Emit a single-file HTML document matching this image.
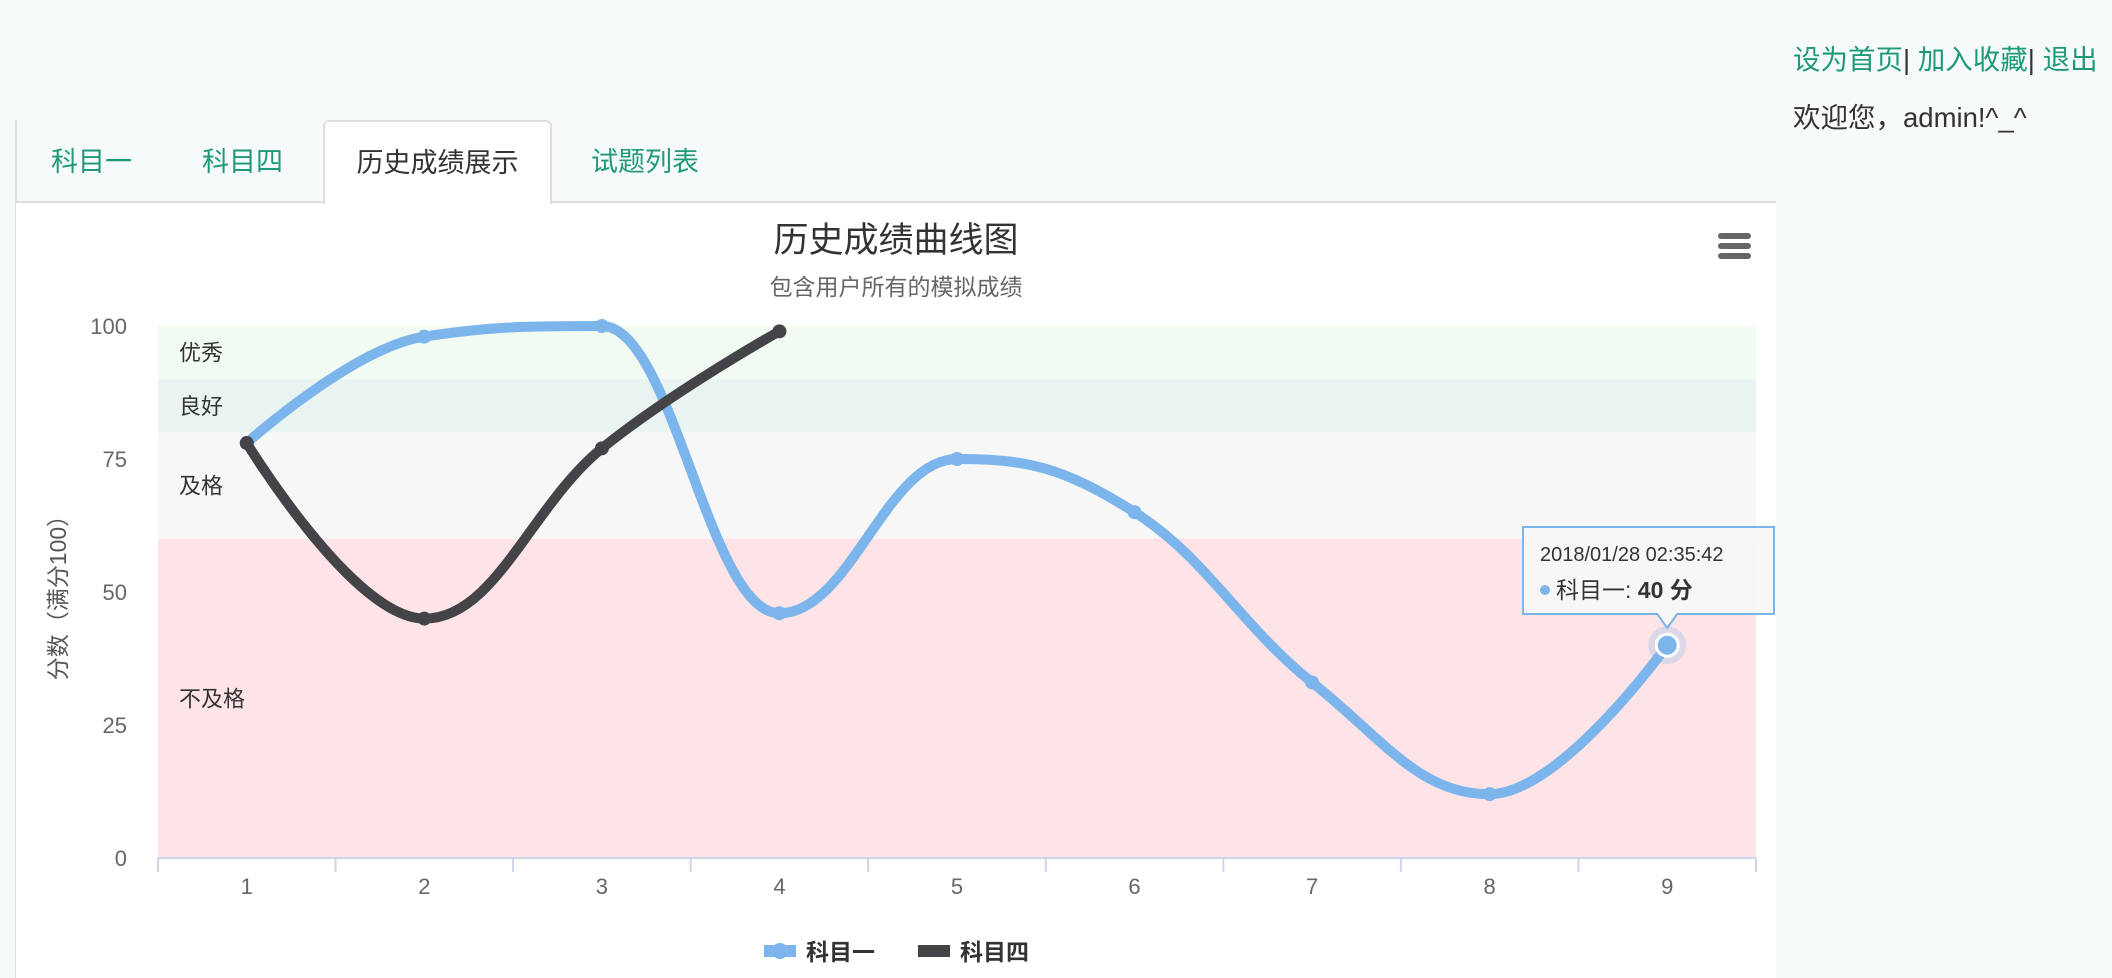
<!DOCTYPE html>
<html><head><meta charset="utf-8">
<style>
body{margin:0;width:2112px;height:978px;background:#f7fafb;overflow:hidden;font-family:"Liberation Sans","Noto Sans CJK SC",sans-serif;position:relative}
.panel{position:absolute;left:16px;top:202px;width:1760px;height:776px;background:#fff}
.lborder{position:absolute;left:15px;top:120px;width:2px;height:858px;background:#ddd}
.tabline{position:absolute;left:16px;top:201px;width:1760px;height:2px;background:#ddd}
.tab{position:absolute;top:140px;font-size:27px;color:#1f9a78;line-height:44px}
.tab.active{color:#333;left:323px;top:120px;width:229px;background:#fff;border:2px solid #ddd;border-bottom:none;border-radius:6px 6px 0 0;text-align:center;line-height:82px;box-sizing:border-box;height:84px}
.top1{position:absolute;left:1793px;top:37px;font-size:27.5px;color:#1f9a78;white-space:nowrap}
.top1 span{color:#333}
.top2{position:absolute;left:1793px;top:95px;font-size:27.5px;color:#333;white-space:nowrap}
svg{position:absolute;left:0;top:0}
</style></head><body>
<div class="lborder"></div>
<div class="panel"></div>
<div class="tabline"></div>
<div class="tab" style="left:51px">科目一</div>
<div class="tab" style="left:202px">科目四</div>
<div class="tab active">历史成绩展示</div>
<div class="tab" style="left:591px">试题列表</div>
<div class="top1"><a>设为首页</a><span>|</span> <a>加入收藏</a><span>|</span> <a>退出</a></div>
<div class="top2">欢迎您，admin!^_^</div>

<svg id="chart" width="2112" height="978" font-family="Liberation Sans, Noto Sans CJK SC, sans-serif"></svg>
<script>
const categories=["1","2","3","4","5","6","7","8","9"];
const seriesOne=[78,98,100,46,75,65,33,12,40];
const seriesFour=[78,45,77,99];
const yTicks=[0,25,50,75,100];
const bandFrom=[90,80,60,0];
const bandTo=[100,90,80,60];
const bandLabels=["优秀","良好","及格","不及格"];
const bandColors=["#f2fbf1","#e8f3f2","#f7f7f7","#fee4e7"];
const seriesNames=["科目一","科目四"];
const tooltipTime="2018/01/28 02:35:42";

const NS="http://www.w3.org/2000/svg";
const svg=document.getElementById('chart');
const L=158,R=1756,T=326,B=858;
const bw=(R-L)/categories.length;
const xs=i=>L+bw*(i+0.5);
const ys=v=>B-(v/100)*(B-T);
function mk(tag,attrs,parent){const e=document.createElementNS(NS,tag);for(const k in attrs)e.setAttribute(k,attrs[k]);(parent||svg).appendChild(e);return e;}
function txt(s,attrs){const e=mk('text',attrs);e.textContent=s;return e;}

bandFrom.forEach((f,i)=>{
  const r=mk('rect',{x:L,y:ys(bandTo[i]),width:R-L,height:ys(f)-ys(bandTo[i]),fill:bandColors[i]});
  
  
  const t=txt(bandLabels[i],{x:179,y:(ys(f)+ys(bandTo[i]))/2+8,'font-size':22,fill:'#333'});
  
  
});
yTicks.forEach(v=>{
  const t=txt(String(v),{x:127,y:ys(v)+8,'font-size':22,fill:'#666','text-anchor':'end'});
  
  
});
const yt=txt('分数（满分100）',{x:0,y:0,'font-size':23,fill:'#555','text-anchor':'middle',transform:'translate(66,592) rotate(-90)'});


const ax=mk('line',{x1:L,x2:R,y1:B,y2:B,stroke:'#ccd6eb','stroke-width':2});


for(let i=0;i<=categories.length;i++){
  const tk=mk('line',{x1:L+bw*i,x2:L+bw*i,y1:B,y2:B+14,stroke:'#ccd6eb','stroke-width':2});
  
  
}
categories.forEach((c,i)=>{
  const t=txt(c,{x:xs(i),y:894,'font-size':22,fill:'#666','text-anchor':'middle'});
  
  
});
const title=txt('历史成绩曲线图',{x:896,y:252,'font-size':35,fill:'#333','text-anchor':'middle'});


const sub=txt('包含用户所有的模拟成绩',{x:896,y:295,'font-size':23,fill:'#666','text-anchor':'middle'});


const menu=mk('g',{});


[236,246,256].forEach(y=>mk('line',{x1:1721,x2:1748,y1:y,y2:y,stroke:'#666','stroke-width':6,'stroke-linecap':'round'},menu));

function spline(vals){
  const p=vals.map((v,i)=>[xs(i),ys(v)]);
  const ctl=p.map((pt,i)=>{
    if(i===0||i===p.length-1)return {l:pt,r:pt};
    const s=1.5,d=2.5,[x,y]=pt,[lx,ly]=p[i-1],[nx,ny]=p[i+1];
    let lcx=(s*x+lx)/d,lcy=(s*y+ly)/d,rcx=(s*x+nx)/d,rcy=(s*y+ny)/d;
    const c=((rcy-lcy)*(rcx-x))/(rcx-lcx)+y-rcy;lcy+=c;rcy+=c;
    if(lcy>ly&&lcy>y){lcy=Math.max(ly,y);rcy=2*y-lcy;}else if(lcy<ly&&lcy<y){lcy=Math.min(ly,y);rcy=2*y-lcy;}
    if(rcy>ny&&rcy>y){rcy=Math.max(ny,y);lcy=2*y-rcy;}else if(rcy<ny&&rcy<y){rcy=Math.min(ny,y);lcy=2*y-rcy;}
    return {l:[lcx,lcy],r:[rcx,rcy]};
  });
  let d='M'+p[0].join(',');
  for(let i=1;i<p.length;i++)d+=' C'+ctl[i-1].r.join(',')+' '+ctl[i].l.join(',')+' '+p[i].join(',');
  return d;
}
function drawSeries(vals,color,name){
  const g=mk('g',{});
  
  
  mk('path',{d:spline(vals),fill:'none',stroke:color,'stroke-width':10,'stroke-linecap':'butt','stroke-linejoin':'round'},g);
  vals.forEach((v,i)=>{
    const c=mk('circle',{cx:xs(i),cy:ys(v),r:7,fill:color},g);
    
    
  });
}
drawSeries(seriesOne,'#7cb5ec','subject-one');
drawSeries(seriesFour,'#434348','subject-four');

const hi=seriesOne.length-1,hx=xs(hi),hy=ys(seriesOne[hi]);
mk('circle',{cx:hx,cy:hy,r:19,fill:'#7cb5ec','fill-opacity':0.25});
const hm=mk('circle',{cx:hx,cy:hy,r:11,fill:'#7cb5ec',stroke:'#fff','stroke-width':3});



const tg=mk('g',{});


const tx=1523,ty=527,tw=251,th=87;
mk('path',{d:`M${tx},${ty} h${tw} v${th} H${hx+10} l-10,14 l-10,-14 H${tx} Z`,fill:'#f7f7f7','fill-opacity':0.9,stroke:'#7cb5ec','stroke-width':2},tg);
const t1=txt(tooltipTime,{x:tx+17,y:ty+34,'font-size':20,fill:'#333'});tg.appendChild(t1);
mk('circle',{cx:tx+22,cy:ty+63,r:5,fill:'#7cb5ec'},tg);
const t2=txt('',{x:tx+33,y:ty+71,'font-size':23,fill:'#333'});tg.appendChild(t2);
t2.innerHTML=seriesNames[0]+': <tspan font-weight="bold">'+seriesOne[hi]+' 分</tspan>';

const lx=[764,918];
seriesNames.forEach((n,i)=>{
  const g=mk('g',{});
  
  
  const col=i?'#434348':'#7cb5ec';
  mk('line',{x1:lx[i],x2:lx[i]+32,y1:951,y2:951,stroke:col,'stroke-width':12},g);
  mk('circle',{cx:lx[i]+16,cy:951,r:i?3:8,fill:col},g);
  const t=txt(n,{x:lx[i]+42,y:960,'font-size':23,'font-weight':'bold',fill:'#333'});g.appendChild(t);
});
</script>
</body></html>
